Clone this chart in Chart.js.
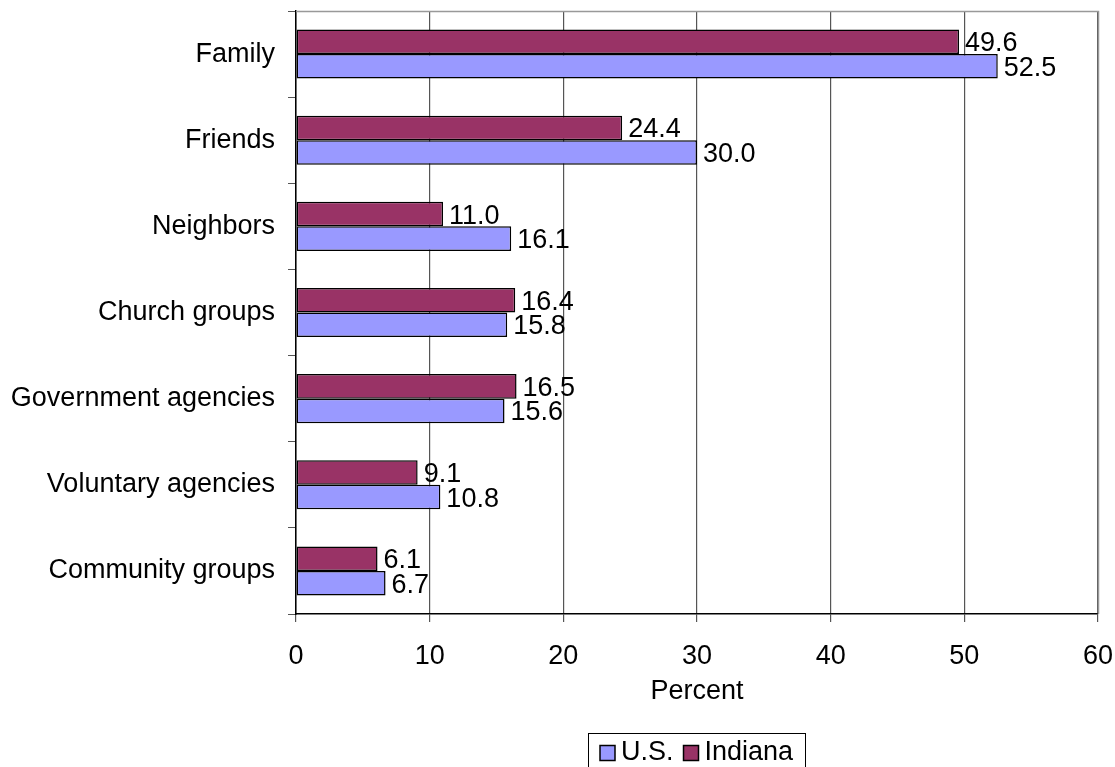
<!DOCTYPE html>
<html>
<head>
<meta charset="utf-8">
<script src="https://cdn.jsdelivr.net/npm/chart.js@4.4.0/dist/chart.umd.min.js"></script>
<style>
  html, body { margin: 0; padding: 0; background: #fff; }
  #wrap { width: 1115px; height: 767px; }
</style>
</head>
<body>
<div id="wrap"><canvas id="chart" width="1115" height="767"></canvas></div>
<script>
const categories = ["Family", "Friends", "Neighbors", "Church groups",
    "Government agencies", "Voluntary agencies", "Community groups"];
const indiana = [49.6, 24.4, 11.0, 16.4, 16.5, 9.1, 6.1];
const us = [52.5, 30.0, 16.1, 15.8, 15.6, 10.8, 6.7];
const xTicks = [0, 10, 20, 30, 40, 50, 60];

const FONT = "'Liberation Sans', Arial, sans-serif";
const FS = 27;

// value labels at the end of each bar
const barLabels = {
    id: "barLabels",
    afterDatasetsDraw(chart) {
        const ctx = chart.ctx;
        ctx.save();
        ctx.font = FS + "px " + FONT;
        ctx.fillStyle = "#000";
        ctx.textAlign = "left";
        ctx.textBaseline = "middle";
        chart.data.datasets.forEach((ds, i) => {
            chart.getDatasetMeta(i).data.forEach((bar, j) => {
                ctx.fillText(ds.data[j].toFixed(1), bar.x + 6, bar.y + 2);
            });
        });
        ctx.restore();
    }
};

// gray frame on top / right, and the boxed legend under the chart
const frame = {
    id: "frame",
    beforeDatasetsDraw(chart) {
        const { ctx, chartArea: a } = chart;
        ctx.save();
        ctx.strokeStyle = "#999";
        ctx.lineWidth = 1.5;
        ctx.beginPath();
        ctx.moveTo(a.left, a.top + 0.5);
        ctx.lineTo(a.right + 0.5, a.top + 0.5);
        ctx.lineTo(a.right + 0.5, a.bottom);
        ctx.stroke();
        ctx.restore();
    },
    afterDraw(chart) {
        const { ctx, chartArea: a } = chart;
        const items = chart.data.datasets.slice().reverse();
        ctx.save();
        ctx.font = FS + "px " + FONT;
        ctx.textBaseline = "middle";
        const box = 15, gapBox = 6, gapItem = 10, pad = 12;
        let w = pad;
        items.forEach((ds, i) => {
            w += box + gapBox + ctx.measureText(ds.label).width + (i < items.length - 1 ? gapItem : 0);
        });
        w += pad;
        const cx = (a.left + a.right) / 2;
        const left = Math.round(cx - w / 2);
        const top = 733, cy = 753;
        ctx.strokeStyle = "#000";
        ctx.lineWidth = 1;
        ctx.strokeRect(left + 0.5, top + 0.5, Math.round(w), 60);
        let x = left + pad;
        items.forEach(ds => {
            ctx.fillStyle = ds.backgroundColor;
            ctx.fillRect(x, cy - box / 2, box, box);
            ctx.lineWidth = 1.5;
            ctx.strokeRect(x, cy - box / 2, box, box);
            x += box + gapBox;
            ctx.fillStyle = "#000";
            ctx.fillText(ds.label, x, cy);
            x += ctx.measureText(ds.label).width + gapItem;
        });
        ctx.restore();
    }
};

new Chart(document.getElementById("chart"), {
    type: "bar",
    data: {
        labels: categories,
        datasets: [
            {
                label: "Indiana",
                data: indiana,
                backgroundColor: "#993366",
                borderColor: "#000",
                borderWidth: 1.5,
                borderSkipped: false,
            },
            {
                label: "U.S.",
                data: us,
                backgroundColor: "#9999FF",
                borderColor: "#000",
                borderWidth: 1.5,
                borderSkipped: false,
            },
        ],
    },
    options: {
        indexAxis: "y",
        responsive: false,
        animation: false,
        devicePixelRatio: 1,
        categoryPercentage: 0.57,
        barPercentage: 1.0,
        layout: { padding: { top: 11, right: 17, left: 0, bottom: 59 } },
        scales: {
            x: {
                min: 0,
                max: 60,
                afterBuildTicks(scale) {
                    scale.ticks = xTicks.map(v => ({ value: v }));
                },
                grid: {
                    color: "#555",
                    lineWidth: 1.2,
                    tickLength: 8,
                    tickColor: "#555",
                },
                border: { color: "#000", width: 1.5 },
                ticks: {
                    color: "#000",
                    font: { family: FONT, size: FS },
                    padding: 18,
                    maxRotation: 0,
                },
                title: {
                    display: true,
                    text: "Percent",
                    color: "#000",
                    font: { family: FONT, size: FS },
                    padding: { top: 10, bottom: 0 },
                },
                afterFit(scale) {
                    scale.height = 94;
                    scale.paddingLeft = 0;
                    scale.paddingRight = 0;
                },
            },
            y: {
                offset: true,
                grid: {
                    offset: true,
                    drawOnChartArea: false,
                    tickLength: 8,
                    color: "#555",
                },
                border: { color: "#000", width: 1.5 },
                ticks: {
                    color: "#000",
                    font: { family: FONT, size: FS },
                    padding: 13,
                },
                afterFit(scale) {
                    scale.width = 296;
                    scale.paddingTop = 0;
                    scale.paddingBottom = 0;
                },
            },
        },
        plugins: {
            legend: { display: false },
            tooltip: { enabled: false },
        },
    },
    plugins: [barLabels, frame],
});
</script>
</body>
</html>
